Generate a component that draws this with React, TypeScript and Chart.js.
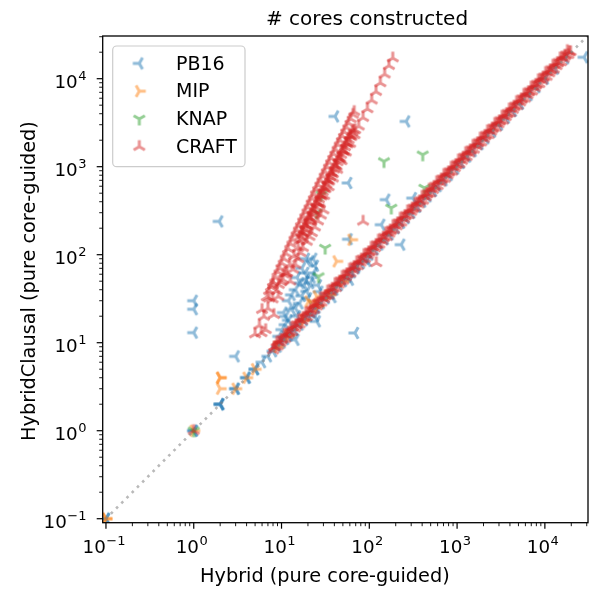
import React, { useEffect, useRef } from "react";
import { Chart, registerables } from "chart.js";

Chart.register(...registerables);

const W = 595;
const H = 589;
const X_MIN = 0.0918;
const X_MAX = 31000;
const Y_MIN = 0.0901;
const Y_MAX = 30560;

const seriesNames = ["PB16", "MIP", "KNAP", "CRAFT"];
const seriesRGB = ["31,119,180", "255,127,14", "44,160,44", "214,39,40"];
const seriesMarker = ["tri_left", "tri_right", "tri_down", "tri_up"];

const majorTickValues = [0.1, 1, 10, 100, 1000, 10000];
const majorTickExponents = ["\u22121", "0", "1", "2", "3", "4"];
const minorTickMultipliers = [2, 3, 4, 5, 6, 7, 8, 9];
const diagonalLine = [[0.05, 0.05], [60000, 60000]];

const titleText = "# cores constructed";
const xLabelText = "Hybrid (pure core-guided)";
const yLabelText = "HybridClausal (pure core-guided)";

// PB16 (blue)
const pb16Diagonal = [
  [0.1, 0.1], [0.1, 0.1], [1, 1], [1, 1], [2, 2], [2, 2], [2, 2], [3, 3], [3, 3], [4, 4], [4, 4],
  [5, 5], [5, 5], [6, 6], [7, 7], [8, 8], [9, 9], [10, 10], [11, 11], [12, 12], [13, 13], [14, 14],
  [16, 16], [18, 18], [20, 20], [22, 22], [25, 25], [28, 28], [32, 32], [36, 36], [40, 40], [45, 45],
  [50, 50], [56, 56], [63, 63], [70, 70], [80, 80], [90, 90], [100, 100], [115, 115], [130, 130],
  [150, 150], [170, 170], [200, 200], [230, 230], [260, 260], [300, 300], [350, 350], [400, 400],
  [460, 460], [530, 530], [600, 600], [700, 700], [800, 800], [950, 950], [1100, 1100], [1300, 1300],
  [1500, 1500], [1800, 1800], [2100, 2100], [2500, 2500], [3000, 3000], [3600, 3600], [4300, 4300],
  [5200, 5200], [6500, 6500], [8000, 8000], [10000, 10000], [13000, 13000], [17000, 17000],
  [14.4, 10.8], [24, 20], [38, 33], [60, 52], [95, 85],
];
const pb16Scattered = [
  [1, 30], [1, 24], [1, 13], [1.95, 239], [3, 7], [40.7, 3730], [263, 3270], [57.5, 653], [156, 422],
  [313, 440], [137, 219], [231, 130], [68.5, 12.9], [28000, 17500],
  [21.2, 84], [18.6, 62], [23.1, 62], [16.4, 47.6], [21.2, 47.6], [14.4, 40], [19.4, 38.3],
  [14.4, 24.8], [13.2, 23.7], [11.1, 19.9], [10.1, 14.1], [9.3, 11.8], [25.2, 17.5], [71.5, 73.6],
  [58, 150], [12, 30], [17, 70], [15, 55], [26, 45], [20, 32], [11, 16], [19, 90], [24, 75], [17, 34],
  [13, 35], [16, 28], [18, 45], [22, 55], [15, 20], [27, 38], [19, 52], [23, 90], [12, 18], [10.5, 22],
];

// MIP (orange)
const mipPoints = [
  [0.1, 0.1], [0.1, 0.1], [1, 1], [2, 4], [2, 4], [2, 3], [3, 3], [4, 4], [5, 5], [9, 9], [12, 12],
  [18, 18], [26, 26], [35, 35], [50, 50], [20.3, 29.4], [25.2, 33.6], [22, 27], [42.5, 84],
  [62.7, 148],
];

// KNAP (green)
const knapPoints = [
  [1, 1], [406, 1368], [147, 1148], [425, 573], [178, 340], [31.4, 119], [26.4, 56.6], [28.5, 481],
  [25, 300],
];

// CRAFT (red)
const craftScattered = [
  [1, 1], [85, 239], [120, 80.5], [5.9, 12.9], [6.6, 14], [6, 23.7], [8.2, 20.8], [7.2, 32],
  [9.2, 33.5], [8, 45], [10.5, 60],
];
const craftSteepA = [
  [5, 12.5], [5.6, 15.7], [6.3, 19.8], [7, 24.5], [7.9, 31.2], [8.8, 38.7], [9.9, 49], [11.1, 61.6],
  [12.4, 76.9], [13.9, 96.6], [15.5, 120], [17.4, 151], [19.5, 190], [21.8, 238], [24.4, 298],
  [27.4, 375], [30.6, 468], [34.3, 588], [38.4, 737], [43, 925], [48.2, 1162], [54, 1458],
  [60.5, 1830], [67.7, 2292], [75.8, 2873], [84.9, 3604], [95.1, 4522], [106.5, 5671],
  [119.3, 7116], [133.6, 8924], [149.7, 11204], [167.6, 14045], [185, 17112],
];
const craftSteepB = [
  [6.8, 33], [7.6, 43], [8.5, 55], [9.5, 70], [10.6, 90], [11.9, 116], [13.3, 149], [14.9, 189],
  [16.7, 240], [18.7, 304], [20.9, 384], [23.4, 487], [26.2, 618], [29.4, 778], [32.9, 985],
  [36.8, 1246], [41.2, 1562], [46.2, 1985], [51.7, 2486], [57.9, 3118], [64.9, 3917], [67.3, 4212],
  [7.2, 39], [8, 49], [9, 64], [10, 80], [11.2, 103], [12.6, 133], [14.1, 169], [15.8, 215],
  [17.7, 272], [19.8, 345], [22.1, 435], [24.8, 553], [27.8, 696], [31.1, 880], [34.8, 1114],
  [39, 1399], [43.7, 1776], [48.9, 2224], [54.8, 2793], [61.3, 3495],
];
const craftBand = [
  [16, 143], [16.8, 181], [17.6, 174], [18.5, 219], [19.4, 211], [20.4, 266], [21.4, 256],
  [22.5, 324], [23.6, 312], [24.8, 394], [26, 379], [27.3, 477], [28.7, 461], [30.1, 580],
  [31.6, 559], [33.2, 705], [34.9, 682], [36.6, 858], [38.4, 826], [40.3, 1039], [42.3, 1002],
  [44.5, 1267], [46.7, 1221], [49, 1537], [51.5, 1485], [54, 1866], [56.7, 1800], [59.6, 2273],
  [62.5, 2187], [65.7, 2590], [69, 2619],
  [16.4, 161], [17.2, 178], [18, 194], [19, 217], [19.9, 238], [20.9, 262], [21.9, 288], [23, 317],
  [24.2, 351], [25.4, 387], [26.7, 428], [28, 470], [29.4, 519], [30.8, 569], [32.4, 630], [34, 694],
  [35.7, 765], [37.5, 844], [39.4, 931], [41.3, 1023], [43.4, 1130], [45.6, 1248], [47.8, 1371],
  [50.2, 1512], [52.8, 1673], [55.4, 1841], [58.1, 2025], [61, 2233], [64.1, 2465],
];
const craftSideChain = [
  [9.3, 45.6], [10.4, 52], [11.6, 62], [12.6, 49.8], [13.5, 68], [14.4, 77], [15.5, 90], [16.4, 105],
  [17.5, 120], [19.4, 141], [20.8, 160], [22.1, 177], [24, 205], [26, 240], [28, 280], [30, 320],
];
const craftDiagonal = [
  [8, 8.2], [8.8, 10.1], [9.7, 10], [10.7, 12.3], [11.7, 12.1], [12.9, 14.8], [14.2, 14.6],
  [15.6, 17.9], [17.2, 17.7], [18.9, 21.7], [20.8, 21.4], [22.9, 26.3], [25.2, 26], [27.7, 31.9],
  [30.5, 31.4], [33.5, 38.5], [36.9, 38], [40.6, 46.7], [44.6, 45.9], [49.1, 56.5], [54, 55.6],
  [59.4, 68.3], [65.3, 67.3], [71.9, 82.7], [79.1, 81.5], [87, 100], [95.7, 98.6], [105, 121],
  [116, 119], [127, 146], [140, 144], [154, 177], [169, 174], [186, 214], [205, 211], [225, 259],
  [248, 255], [273, 314], [300, 309], [330, 380], [363, 374], [399, 459], [439, 452], [483, 555],
  [531, 547], [585, 673], [643, 662], [707, 813], [778, 801], [856, 984], [941, 969], [1035, 1190],
  [1139, 1173], [1253, 1441], [1378, 1419], [1516, 1743], [1668, 1718], [1834, 2109], [2018, 2079],
  [2220, 2553], [2442, 2515], [2686, 3089], [2954, 3043], [3250, 3738], [3575, 3682], [3932, 4522],
  [4325, 4455], [4758, 5472], [5234, 5391], [5757, 6621], [6333, 6523], [6966, 8011], [7663, 7893],
  [8429, 9693], [9272, 9550], [10200, 11730], [11220, 11557], [12340, 14191], [13570, 13977],
  [14930, 17170], [16420, 16913], [18070, 20780], [19600, 20190],
];
const craftDiagonal2 = [
  [8.4, 8.9], [9.2, 10.3], [10.2, 10.8], [11.2, 12.5], [12.3, 13], [13.5, 15.1], [14.9, 15.8],
  [16.4, 18.4], [18.1, 19.2], [19.8, 22.2], [21.8, 23.1], [24, 26.9], [26.5, 28.1], [29.1, 32.6],
  [32, 33.9], [35.2, 39.4], [38.7, 41], [42.6, 47.7], [46.8, 49.6], [51.6, 57.8], [56.7, 60.1],
  [62.4, 69.9], [68.6, 72.7], [75.5, 84.6], [83.1, 88.1], [91.4, 102], [100.5, 106.5], [110, 123],
  [122, 129], [133, 149], [147, 156], [162, 181], [177, 188], [195, 218], [215, 228], [236, 264],
  [260, 276], [287, 321], [315, 334], [347, 389], [381, 404], [419, 469], [461, 489], [507, 568],
  [558, 591], [614, 688], [675, 716], [742, 831], [817, 866], [899, 1007], [988, 1047], [1087, 1217],
  [1196, 1268], [1316, 1474], [1447, 1534], [1592, 1783], [1751, 1856], [1926, 2157], [2119, 2246],
  [2331, 2611], [2564, 2718], [2820, 3158], [3102, 3288], [3413, 3823], [3754, 3979], [4129, 4624],
  [4541, 4813], [4996, 5596], [5496, 5826], [6045, 6770], [6650, 7049], [7314, 8192], [8046, 8529],
  [8850, 9912], [9736, 10320], [10710, 11995], [11780, 12487], [12960, 14515], [14250, 15105],
  [15680, 17562], [17240, 18274], [18970, 20108],
];
const craftDiagonal3 = [
  [8.2, 8.9], [9, 9.1], [9.9, 10.8], [11, 11.1], [12, 13.1], [13.2, 13.3], [14.6, 15.9], [16, 16.2],
  [17.6, 19.2], [19.4, 19.6], [21.3, 23.2], [23.5, 23.7], [25.8, 28.1], [28.4, 28.7], [31.3, 34.1],
  [34.3, 34.6], [37.8, 41.2], [41.6, 42], [45.7, 49.8], [50.3, 50.8], [55.4, 60.4], [60.9, 61.5],
  [66.9, 72.9], [73.7, 74.4], [81.1, 88.4], [89.2, 90.1], [98.1, 107], [108, 109], [119, 130],
  [130, 131], [144, 157], [158, 160], [173, 189], [191, 193], [210, 229], [231, 233], [254, 277],
  [280, 283], [308, 336], [338, 341], [372, 405], [409, 413], [450, 491], [495, 500], [544, 593],
  [600, 606], [659, 718], [725, 732], [797, 869], [877, 886], [965, 1052], [1061, 1072], [1167, 1272],
  [1284, 1297], [1412, 1539], [1554, 1570], [1710, 1864], [1880, 1899], [2068, 2254], [2276, 2299],
  [2503, 2728], [2753, 2781], [3028, 3301], [3331, 3364], [3664, 3994], [4030, 4070], [4433, 4832],
  [4877, 4926], [5365, 5848], [5901, 5960], [6491, 7075], [7140, 7211], [7855, 8562], [8640, 8726],
  [9504, 10359], [10455, 10560], [11500, 12535], [12650, 12777], [13910, 15162], [15300, 15453],
  [16830, 18345], [18520, 18705],
];

const seriesData = [
  [...pb16Diagonal, ...pb16Scattered],
  mipPoints,
  knapPoints,
  [
    ...craftScattered, ...craftSteepA, ...craftSteepB, ...craftBand, ...craftSideChain,
    ...craftDiagonal, ...craftDiagonal2, ...craftDiagonal3,
  ],
];

const FONT = '"DejaVu Sans", sans-serif';

function makeMarker(kind: string, rgb: string): HTMLCanvasElement {
  const size = 20;
  const r = 6.5;
  const c = document.createElement("canvas");
  c.width = size;
  c.height = size;
  const ctx = c.getContext("2d")!;
  const cx = size / 2;
  const cy = size / 2;
  const s = 0.8660254;
  let arms: number[][];
  if (kind === "tri_down") arms = [[0, 1], [s, -0.5], [-s, -0.5]];
  else if (kind === "tri_up") arms = [[0, -1], [s, 0.5], [-s, 0.5]];
  else if (kind === "tri_left") arms = [[-1, 0], [0.5, s], [0.5, -s]];
  else arms = [[1, 0], [-0.5, s], [-0.5, -s]];
  ctx.beginPath();
  for (const [dx, dy] of arms) {
    ctx.moveTo(cx, cy);
    ctx.lineTo(cx + dx * r, cy + dy * r);
  }
  ctx.strokeStyle = `rgba(${rgb},0.5)`;
  ctx.lineWidth = 3.0;
  ctx.lineCap = "butt";
  ctx.lineJoin = "miter";
  ctx.stroke();
  return c;
}

function drawPower(ctx: CanvasRenderingContext2D, exp: string, x: number, baseline: number, align: "center" | "right") {
  const baseSize = 18.3;
  const expSize = 13;
  ctx.font = `${baseSize}px ${FONT}`;
  const wb = ctx.measureText("10").width;
  ctx.font = `${expSize}px ${FONT}`;
  const we = ctx.measureText(exp).width;
  const total = wb + we + 0.5;
  const left = align === "center" ? x - total / 2 - 2 : x - total;
  ctx.textAlign = "left";
  ctx.textBaseline = "alphabetic";
  ctx.font = `${baseSize}px ${FONT}`;
  ctx.fillText("10", left, baseline);
  ctx.font = `${expSize}px ${FONT}`;
  ctx.fillText(exp, left + wb + 0.5, baseline - 8.4);
}

export default function App() {
  const ref = useRef<HTMLCanvasElement>(null);

  useEffect(() => {
    const markers = seriesRGB.map((rgb, i) => makeMarker(seriesMarker[i], rgb));

    const decor = {
      id: "decor",
      afterDatasetsDraw(chart: any) {
        const ctx: CanvasRenderingContext2D = chart.ctx;
        const xs = chart.scales.x;
        const ys = chart.scales.y;
        const a = chart.chartArea;
        ctx.save();

        // legend
        const lx = 112.7, ly = 46, lw = 132.3, lh = 120.7, rr = 4;
        ctx.beginPath();
        ctx.moveTo(lx + rr, ly);
        ctx.lineTo(lx + lw - rr, ly);
        ctx.arcTo(lx + lw, ly, lx + lw, ly + rr, rr);
        ctx.lineTo(lx + lw, ly + lh - rr);
        ctx.arcTo(lx + lw, ly + lh, lx + lw - rr, ly + lh, rr);
        ctx.lineTo(lx + rr, ly + lh);
        ctx.arcTo(lx, ly + lh, lx, ly + lh - rr, rr);
        ctx.lineTo(lx, ly + rr);
        ctx.arcTo(lx, ly, lx + rr, ly, rr);
        ctx.closePath();
        ctx.fillStyle = "rgba(255,255,255,0.8)";
        ctx.fill();
        ctx.strokeStyle = "#cccccc";
        ctx.lineWidth = 1.2;
        ctx.stroke();
        ctx.font = `19px ${FONT}`;
        ctx.fillStyle = "#000";
        ctx.textAlign = "left";
        ctx.textBaseline = "alphabetic";
        seriesNames.forEach((name, i) => {
          const rowY = 63.4 + 27.75 * i;
          ctx.drawImage(markers[i], 139.3 - 10, rowY - 10);
          ctx.fillText(name, 176, rowY + 6.3);
        });

        // frame
        ctx.strokeStyle = "#000";
        ctx.lineWidth = 1.3;
        ctx.strokeRect(a.left, a.top, a.right - a.left, a.bottom - a.top);

        // ticks
        const minor: number[] = [];
        for (let e = -2; e <= 4; e++) {
          for (const m of minorTickMultipliers) minor.push(m * Math.pow(10, e));
        }
        ctx.lineWidth = 0.9;
        for (const v of minor) {
          if (v >= X_MIN && v <= X_MAX) {
            const px = xs.getPixelForValue(v);
            ctx.beginPath();
            ctx.moveTo(px, a.bottom);
            ctx.lineTo(px, a.bottom + 3.5);
            ctx.stroke();
          }
          if (v >= Y_MIN && v <= Y_MAX) {
            const py = ys.getPixelForValue(v);
            ctx.beginPath();
            ctx.moveTo(a.left, py);
            ctx.lineTo(a.left - 3.5, py);
            ctx.stroke();
          }
        }
        ctx.lineWidth = 1.2;
        ctx.fillStyle = "#000";
        majorTickValues.forEach((v, i) => {
          const px = xs.getPixelForValue(v);
          ctx.beginPath();
          ctx.moveTo(px, a.bottom);
          ctx.lineTo(px, a.bottom + 6);
          ctx.stroke();
          drawPower(ctx, majorTickExponents[i], px, a.bottom + 30.6, "center");
          const py = ys.getPixelForValue(v);
          ctx.beginPath();
          ctx.moveTo(a.left, py);
          ctx.lineTo(a.left - 6, py);
          ctx.stroke();
          drawPower(ctx, majorTickExponents[i], a.left - 16.2, py + 9.3, "right");
        });

        // axis labels
        ctx.font = `19.3px ${FONT}`;
        ctx.textAlign = "left";
        ctx.textBaseline = "alphabetic";
        ctx.fillText(xLabelText, 200, 581.7);
        ctx.save();
        ctx.translate(35, 281);
        ctx.rotate(-Math.PI / 2);
        ctx.textAlign = "center";
        ctx.fillText(yLabelText, 0, 0);
        ctx.restore();

        // title
        ctx.font = `20px ${FONT}`;
        ctx.textAlign = "left";
        ctx.fillText(titleText, 266, 25);

        ctx.restore();
      },
    };

    const datasets: any[] = seriesNames.map((name, i) => ({
      label: name,
      data: seriesData[i].map(([x, y]) => ({ x, y })),
      pointStyle: markers[i],
      pointRadius: 6,
      pointHoverRadius: 6,
      order: 5 - i,
      clip: 0,
    }));
    datasets.push({
      label: "diagonal",
      data: diagonalLine.map(([x, y]) => ({ x, y })),
      showLine: true,
      borderColor: "rgba(128,128,128,0.55)",
      borderWidth: 2.6,
      borderDash: [2.6, 4.8],
      borderCapStyle: "butt",
      pointRadius: 0,
      fill: false,
      order: 0,
      clip: 0,
    });

    const chart = new Chart(ref.current!, {
      type: "scatter",
      data: { datasets },
      options: {
        responsive: false,
        animation: false,
        events: [],
        layout: { padding: { left: 102.7, right: W - 591, top: 36, bottom: H - 522.7 } },
        scales: {
          x: { type: "logarithmic", min: X_MIN, max: X_MAX, display: false },
          y: { type: "logarithmic", min: Y_MIN, max: Y_MAX, display: false },
        },
        plugins: { legend: { display: false }, tooltip: { enabled: false }, title: { display: false } },
      },
      plugins: [decor],
    });
    return () => chart.destroy();
  }, []);

  return (
    <div style={{ position: "absolute", left: 0, top: 0, width: W, height: H, background: "#fff" }}>
      <canvas ref={ref} width={W} height={H} style={{ display: "block", width: W, height: H }} />
    </div>
  );
}
